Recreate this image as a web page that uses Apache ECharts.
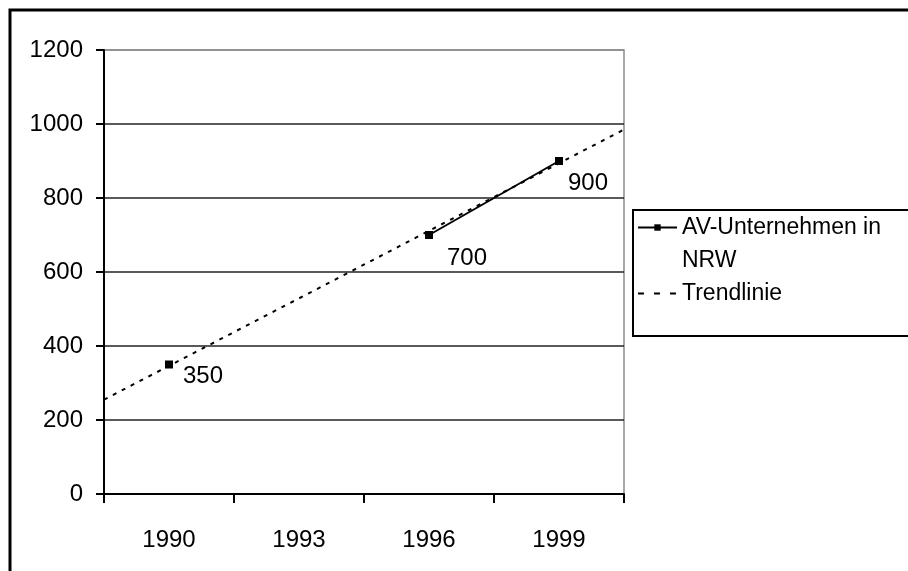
<!DOCTYPE html>
<html>
<head>
<meta charset="utf-8">
<script src="https://cdn.jsdelivr.net/npm/echarts@6/dist/echarts.min.js"></script>
<style>
  html, body { margin: 0; padding: 0; background: #fff; }
  #main { width: 908px; height: 571px; }
</style>
</head>
<body>
<div id="main"></div>
<script>
// Daten
var years = ['1990', '1993', '1996', '1999'];
var unternehmen = [350, null, 700, 900];
// Trendlinie: Endpunkte am Rand der Zeichenfläche (x in Kategorie-Einheiten)
var trendX = [-0.5, 3.5];
var trendY = [255, 985];
var yTicks = [0, 200, 400, 600, 800, 1000, 1200];

var FONT = '"Liberation Sans", Arial, sans-serif';
var SERIES_NAME = 'AV-Unternehmen in NRW';

var myChart = echarts.init(document.getElementById('main'));

// Label-Versatz je Punkt (wie in Excel leicht unterschiedlich)
var labelOffsets = [[10, 12], null, [14, 23], [5, 22]];
var avData = unternehmen.map(function (v, i) {
    if (v == null) return null;
    return { value: v, label: { offset: labelOffsets[i] } };
});

var trendData = trendX.map(function (x, i) { return [x, trendY[i]]; });

myChart.setOption({
    animation: false,
    textStyle: { fontFamily: FONT },
    grid: {
        left: 104, right: 284, top: 50, bottom: 77,
        show: true, borderColor: '#8a8a8a', borderWidth: 1.5
    },
    legend: {
        orient: 'vertical',
        left: 637,
        top: 178,
        padding: 0,
        itemGap: 0,
        itemWidth: 39,
        itemHeight: 8,
        textStyle: { fontSize: 23, color: '#000', fontFamily: FONT, lineHeight: 33 },
        // erste Zeile am Symbol ausrichten: leere Zeile davor
        formatter: function (name) {
            return name === SERIES_NAME ? '\nAV-Unternehmen in\nNRW' : name;
        },
        data: [
            SERIES_NAME,
            { name: 'Trendlinie', lineStyle: { type: [6, 10], width: 2 } }
        ]
    },
    xAxis: [{
        type: 'category',
        data: years,
        boundaryGap: true,
        axisLine: { lineStyle: { color: '#000', width: 2 } },
        axisTick: { show: true, length: 9, lineStyle: { color: '#000', width: 2 } },
        axisLabel: { fontSize: 24, color: '#000', margin: 34, fontFamily: FONT },
        splitLine: { show: false }
    }, {
        type: 'value',
        min: trendX[0],
        max: trendX[1],
        show: false
    }],
    yAxis: {
        type: 'value',
        min: yTicks[0],
        max: yTicks[yTicks.length - 1],
        interval: 200,
        axisLine: { show: true, onZero: false, lineStyle: { color: '#000', width: 2 } },
        axisTick: { show: true, length: 8, lineStyle: { color: '#000', width: 2 } },
        axisLabel: {
            fontSize: 24, color: '#000', margin: 21, fontFamily: FONT,
            formatter: function (v) { return String(v); }
        },
        splitLine: {
            show: true,
            lineStyle: { color: ['#222', '#222', '#222', '#222', '#222', '#222', '#8a8a8a'], width: 1.5 }
        }
    },
    graphic: [
        {
            type: 'rect', silent: true, z: 100,
            shape: { x: 10, y: 10, width: 1000, height: 1000 },
            style: { fill: 'none', stroke: '#000', lineWidth: 3 }
        },
        {
            type: 'rect', silent: true, z: 100,
            shape: { x: 633, y: 210, width: 400, height: 126 },
            style: { fill: 'none', stroke: '#000', lineWidth: 2 }
        }
    ],
    series: [{
        name: SERIES_NAME,
        type: 'line',
        data: avData,
        connectNulls: false,
        symbol: 'rect',
        symbolSize: 8,
        itemStyle: { color: '#000' },
        lineStyle: { color: '#000', width: 2 },
        label: {
            show: true,
            position: 'right',
            distance: 0,
            align: 'left',
            fontSize: 24,
            color: '#000',
            fontFamily: FONT
        },
        z: 3
    }, {
        name: 'Trendlinie',
        type: 'line',
        xAxisIndex: 1,
        data: trendData,
        symbol: 'none',
        itemStyle: { color: 'rgba(0,0,0,0)', borderColor: 'rgba(0,0,0,0)' },
        lineStyle: { color: '#000', width: 2, type: [4, 6] },
        z: 2
    }]
});
</script>
</body>
</html>
